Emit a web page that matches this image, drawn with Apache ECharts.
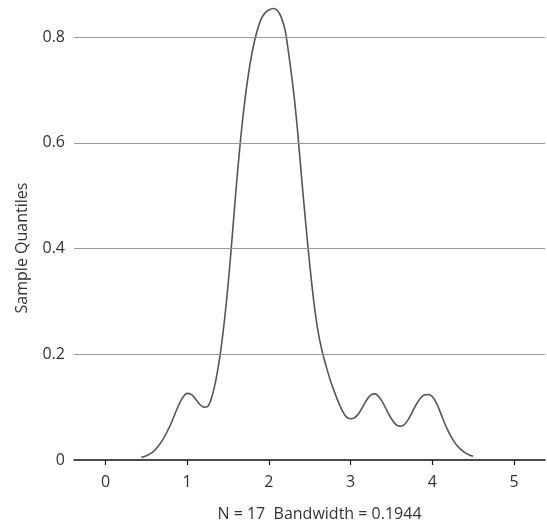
<!DOCTYPE html>
<html>
<head>
<meta charset="utf-8">
<script src="https://cdn.jsdelivr.net/npm/echarts@6/dist/echarts.min.js"></script>
<style>html,body{margin:0;padding:0;background:#fff}#c{width:547px;height:529px}</style>
</head>
<body>
<div id="c"></div>
<script>
const xValues = [0.44,0.50,0.55,0.60,0.65,0.70,0.75,0.80,0.85,0.90,0.95,1.00,1.05,1.10,1.15,1.20,1.25,1.30,1.35,1.40,1.45,1.50,1.55,1.60,1.65,1.70,1.75,1.80,1.85,1.90,1.95,2.00,2.05,2.10,2.15,2.20,2.25,2.30,2.35,2.40,2.45,2.50,2.55,2.60,2.65,2.70,2.75,2.80,2.85,2.90,2.95,3.00,3.05,3.10,3.15,3.20,3.25,3.30,3.35,3.40,3.45,3.50,3.55,3.60,3.65,3.70,3.75,3.80,3.85,3.90,3.95,4.00,4.05,4.10,4.15,4.20,4.25,4.30,4.35,4.40,4.45,4.50];
const densityValues = [0.005,0.008,0.012,0.018,0.027,0.038,0.052,0.068,0.087,0.105,0.119,0.126,0.124,0.116,0.106,0.100,0.101,0.118,0.150,0.195,0.255,0.33,0.42,0.515,0.60,0.672,0.73,0.775,0.808,0.832,0.845,0.851,0.854,0.851,0.838,0.812,0.76,0.70,0.625,0.535,0.45,0.37,0.30,0.245,0.207,0.178,0.152,0.13,0.11,0.093,0.081,0.078,0.080,0.088,0.101,0.114,0.123,0.125,0.119,0.107,0.092,0.078,0.068,0.064,0.066,0.075,0.089,0.104,0.116,0.123,0.124,0.120,0.108,0.09,0.07,0.053,0.039,0.028,0.020,0.014,0.010,0.007];
const xTicks = [0,1,2,3,4,5];
const yGridValues = [0.2,0.4,0.6,0.8];
const xAxisTitle = 'N = 17  Bandwidth = 0.1944';
const yAxisTitle = 'Sample Quantiles';

const font = '"Open Sans", "DejaVu Sans", sans-serif';
const chart = echarts.init(document.getElementById('c'), null, {renderer: 'canvas'});
chart.setOption({
  animation: false,
  backgroundColor: '#fff',
  grid: {left: 74, right: 2, top: 0, bottom: 69},
  xAxis: {
    type: 'value', min: -0.385, max: 5.38,
    name: xAxisTitle, nameLocation: 'middle', nameGap: 46,
    nameTextStyle: {fontFamily: font, fontSize: 16, color: '#333', padding: [0,0,0,20]},
    axisLine: {show: true, onZero: false, lineStyle: {color: '#111', width: 1.5}},
    axisTick: {show: true, length: 5, customValues: xTicks, lineStyle: {color: '#111', width: 1.2}},
    axisLabel: {customValues: xTicks, margin: 14, fontFamily: font, fontSize: 16, color: '#333'},
    splitLine: {show: false}
  },
  yAxis: {
    type: 'value', min: 0, max: 0.87, interval: 0.2,
    name: yAxisTitle, nameLocation: 'middle', nameGap: 44,
    nameTextStyle: {fontFamily: font, fontSize: 16, color: '#333', padding: [0,36,0,0]},
    axisLine: {show: false}, axisTick: {show: false},
    axisLabel: {margin: 9, fontFamily: font, fontSize: 16, color: '#333', showMaxLabel: false},
    splitLine: {show: false}
  },
  series: [{
    type: 'line',
    data: xValues.map((x, i) => [x, densityValues[i]]),
    smooth: 0.3, symbol: 'none',
    lineStyle: {color: '#555', width: 1.6},
    markLine: {
      silent: true, symbol: 'none', label: {show: false},
      lineStyle: {color: '#999', width: 1.2, type: 'solid'},
      data: yGridValues.map(v => ({yAxis: v}))
    },
    z: 3
  }]
});
</script>
</body>
</html>
